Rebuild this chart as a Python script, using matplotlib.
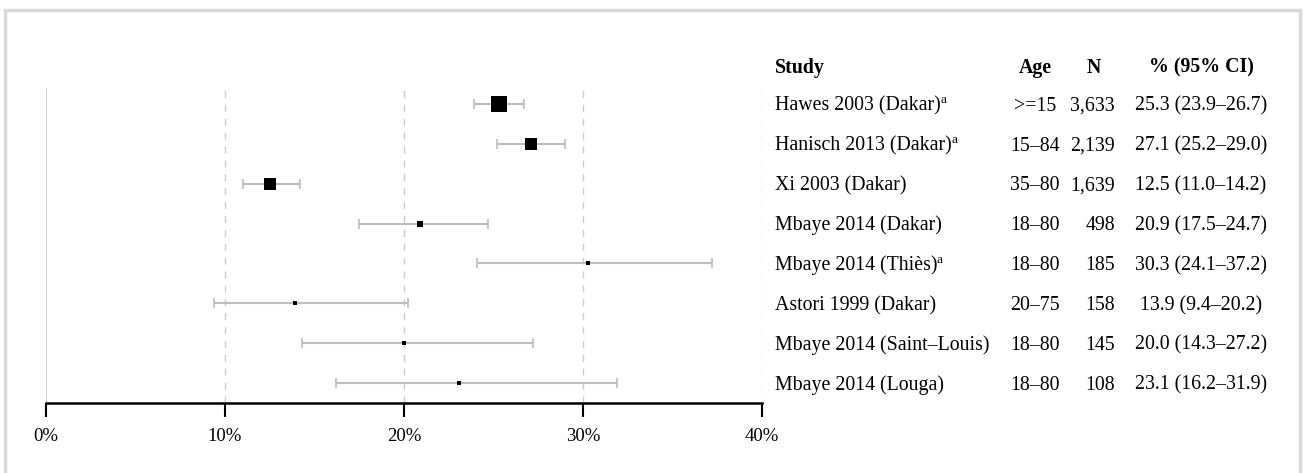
"""
Forest plot: prevalence by study with a side table
"""
import numpy as np
import matplotlib.pyplot as plt
from matplotlib import transforms
from matplotlib.patches import Rectangle

plt.rcParams['font.family'] = ['Liberation Serif', 'DejaVu Serif']

# Data from the table
studies = ['Hawes 2003 (Dakar)', 'Hanisch 2013 (Dakar)', 'Xi 2003 (Dakar)',
           'Mbaye 2014 (Dakar)', 'Mbaye 2014 (Thiès)', 'Astori 1999 (Dakar)',
           'Mbaye 2014 (Saint–Louis)', 'Mbaye 2014 (Louga)']
notes = ['a', 'a', '', '', 'a', '', '', '']
ages = ['>=15', '15–84', '35–80', '18–80', '18–80', '20–75', '18–80', '18–80']
n = [3633, 2139, 1639, 498, 185, 158, 145, 108]
pct = [25.3, 27.1, 12.5, 20.9, 30.3, 13.9, 20.0, 23.1]
lo = [23.9, 25.2, 11.0, 17.5, 24.1, 9.4, 14.3, 16.2]
hi = [26.7, 29.0, 14.2, 24.7, 37.2, 20.2, 27.2, 31.9]
xticks = [0, 10, 20, 30, 40]

W, H = 1303, 473
fig = plt.figure(figsize=(W / 100, H / 100), dpi=100)

# light grey frame around the figure
fig.patches.append(Rectangle((5 / W, -0.1), 1295 / W, 1.1 - 10 / H,
                             transform=fig.transFigure, fill=False,
                             edgecolor='#d9d9d9', linewidth=2.5))

ax = fig.add_axes([46 / W, 1 - 403 / H, 716 / W, 315 / H])
rows = np.arange(len(studies))

for x in xticks[1:]:
    ax.axvline(x, color='#cccccc', linestyle=(0, (5, 5)), linewidth=1, zorder=0)
ax.axvline(0, color='#cccccc', linewidth=1.2, zorder=0)

for i in rows:
    ax.errorbar(pct[i], i, xerr=[[pct[i] - lo[i]], [hi[i] - pct[i]]],
                fmt='none', ecolor='#bdbdbd', elinewidth=1.5, capsize=3.6,
                capthick=1.2, zorder=2)
    side = max(0.28 * np.sqrt(n[i]), 4) * 0.72  # px -> pt
    ax.plot(pct[i], i, marker='s', color='black', markersize=side,
            markeredgewidth=0, linestyle='none', zorder=3)

ax.set_xlim(0, 40)
ax.set_ylim(7.5, -0.4)
ax.set_xticks(xticks)
ax.set_xticklabels([f'{x}%' for x in xticks], fontsize=13.5)
ax.set_yticks([])
for s in ['top', 'right', 'left']:
    ax.spines[s].set_visible(False)
ax.spines['bottom'].set_linewidth(1.8)
ax.tick_params(axis='x', length=10, width=1.5, pad=8)
ax.patch.set_alpha(0)

# side table, text sits on a baseline a little below each row centre
tr = transforms.blended_transform_factory(fig.transFigure, ax.transData)
fs = 14.3
base = 0.17
hy = -0.95 + base
fig.text(775 / W, hy, 'Study', transform=tr, fontsize=fs, fontweight='bold', va='baseline')
fig.text(1035 / W, hy, 'Age', transform=tr, fontsize=fs, fontweight='bold', va='baseline', ha='center')
fig.text(1094 / W, hy, 'N', transform=tr, fontsize=fs, fontweight='bold', va='baseline', ha='center')
fig.text(1201 / W, hy, '% (95% CI)', transform=tr, fontsize=fs, fontweight='bold', va='baseline', ha='center')
for i in rows:
    y = i + base
    t = fig.text(775 / W, y, studies[i], transform=tr, fontsize=fs, va='baseline')
    if notes[i]:
        ax.annotate(notes[i], xy=(1, y), xycoords=(t, ax.transData),
                    xytext=(-0.5, 5.5), textcoords='offset points',
                    fontsize=9.5, va='baseline', annotation_clip=False)
    fig.text(1035 / W, y, ages[i], transform=tr, fontsize=fs, va='baseline', ha='center')
    fig.text(1115 / W, y, f'{n[i]:,}', transform=tr, fontsize=fs, va='baseline', ha='right')
    fig.text(1201 / W, y, f'{pct[i]:.1f} ({lo[i]:.1f}–{hi[i]:.1f})', transform=tr,
             fontsize=fs, va='baseline', ha='center')

fig.savefig('out.png', dpi=100)
